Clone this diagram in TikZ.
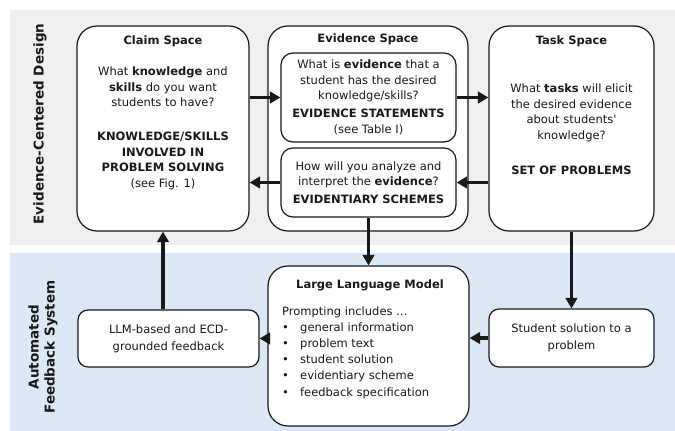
\documentclass[tikz,border=0pt]{standalone}
\usepackage{fontspec}
\setmainfont{DejaVu Sans}
\usetikzlibrary{arrows.meta,calc}
\definecolor{panelgray}{RGB}{240,240,240}
\definecolor{panelblue}{RGB}{220,232,245}
\definecolor{ink}{RGB}{25,25,25}
\begin{document}
\begin{tikzpicture}[x=1pt,y=-1pt,
  font=\fontsize{11.5}{15.5}\selectfont,
  box/.style={draw=ink, line width=1.2pt, fill=white, inner sep=0pt},
  bigbox/.style={box, rounded corners=20pt},
  innerbox/.style={box, rounded corners=12pt},
  smallbox/.style={box, rounded corners=10pt},
  txt/.style={align=center, text=ink, inner sep=0pt},
  ttl/.style={txt, font=\bfseries\fontsize{11.5}{15.5}\selectfont},
  side/.style={txt, rotate=90, font=\bfseries\fontsize{13.5}{16}\selectfont},
  flow/.style={draw=ink, line width=3.2pt, -{Triangle[length=10.5pt,width=11.5pt]}}]
\useasboundingbox (0,0) rectangle (675,431);
\fill[white] (0,0) rectangle (675,431);
\fill[panelgray] (10,10) rectangle (675,245);
\fill[panelblue] (10,253) rectangle (675,431);

\node[side] (ecd) at (40,124) {Evidence-Centered Design};
\node[side] (afs) at (43,347) {Automated\\Feedback System};

% top row
\node[bigbox, minimum width=172pt, minimum height=205pt] (claim) at (163,128.5) {};
\node[bigbox, minimum width=200pt, minimum height=205pt] (evid) at (368,128.5) {};
\node[bigbox, minimum width=165pt, minimum height=205pt] (task) at (571.5,128.5) {};
\node[innerbox, minimum width=175pt, minimum height=89pt] (stmt) at (368.5,97.5) {};
\node[innerbox, minimum width=175pt, minimum height=69pt] (schemes) at (368.5,182.5) {};

\node[ttl] (claimtitle) at (163,41) {Claim Space};
\node[txt] (claimtext) at (163,128.5) {What \textbf{knowledge} and\\ \textbf{skills} do you want\\ students to have?\\[18.5pt]
  \textbf{KNOWLEDGE/SKILLS}\\ \textbf{INVOLVED IN}\\ \textbf{PROBLEM SOLVING}\\ (see Fig. 1)};

\node[ttl] (evidtitle) at (368,39) {Evidence Space};
\node[txt] (stmttext) at (368.5,97.5) {What is \textbf{evidence} that a\\ student has the desired\\ knowledge/skills?\\[2.5pt]
  \textbf{EVIDENCE STATEMENTS}\\ (see Table I)};
\node[txt] (schemestext) at (368.5,182.5) {How will you analyze and\\ interpret the \textbf{evidence}?\\[2.5pt]
  \textbf{EVIDENTIARY SCHEMES}};

\node[ttl] (tasktitle) at (571.5,41) {Task Space};
\node[txt] (tasktext) at (571.5,129) {What \textbf{tasks} will elicit\\ the desired evidence\\ about students\textquotesingle\\ knowledge?\\[19.5pt]
  \textbf{SET OF PROBLEMS}};

% bottom row
\node[bigbox, minimum width=201pt, minimum height=160pt] (llm) at (368.5,346) {};
\node[smallbox, minimum width=181pt, minimum height=57pt] (feedback) at (168.5,338.5) {};
\node[smallbox, minimum width=165pt, minimum height=58pt] (student) at (571.5,338) {};

\node[ttl] (llmtitle) at (370,285) {Large Language Model};
\node[txt, align=left, anchor=west, font=\fontsize{11.5}{16.2}\selectfont] (llmtext) at (282,352.5) {Prompting includes \dots\\
  \makebox[18pt][l]{\textbullet}general information\\
  \makebox[18pt][l]{\textbullet}problem text\\
  \makebox[18pt][l]{\textbullet}student solution\\
  \makebox[18pt][l]{\textbullet}evidentiary scheme\\
  \makebox[18pt][l]{\textbullet}feedback specification};
\node[txt, font=\fontsize{11.5}{17}\selectfont] (feedbacktext) at (168.5,338.5) {LLM-based and ECD-\\grounded feedback};
\node[txt, font=\fontsize{11.5}{17}\selectfont] (studenttext) at (571.5,338) {Student solution to a\\problem};

% connectors
\draw[flow] (claim.east |- stmt.west) -- (stmt.west);
\draw[flow] (schemes.west) -- (claim.east |- schemes.west);
\draw[flow] (stmt.east) -- (task.west |- stmt.east);
\draw[flow] (task.west |- schemes.east) -- (schemes.east);
\draw[flow] (schemes.south) -- (llm.north);
\draw[flow] (task.south) -- (student.north);
\draw[flow] (student.west) -- (llm.east |- student.west);
\draw[flow] (llm.west |- feedback.east) -- (feedback.east);
\draw[flow] (feedback.north -| claim.south) -- (claim.south);
\end{tikzpicture}
\end{document}
